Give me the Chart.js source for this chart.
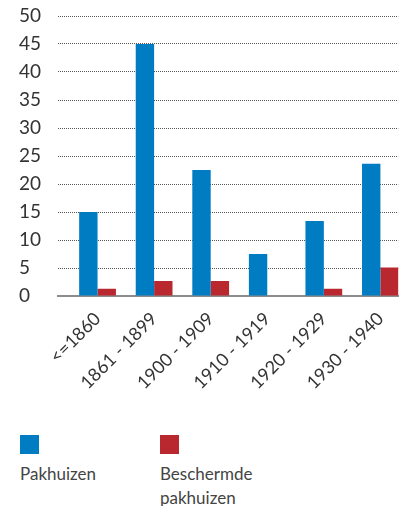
<!DOCTYPE html>
<html>
<head>
<meta charset="utf-8">
<script src="https://cdn.jsdelivr.net/npm/chart.js@4"></script>
<style>
  body { margin: 0; background: #fff; font-family: Lato, sans-serif; }
  #wrap { position: relative; width: 408px; height: 506px; }
  #chart { position: absolute; left: 0; top: 0; }
  .legend-item { position: absolute; top: 435px; color: #444; font-size: 17px; line-height: 24px; }
  .legend-item .box { width: 19px; height: 19px; margin-bottom: 8px; }
</style>
</head>
<body>
<div id="wrap">
  <canvas id="chart" width="408" height="400"></canvas>
  <div class="legend-item" style="left:20px;">
    <div class="box" style="background:#007cc3;"></div>
    <div>Pakhuizen</div>
  </div>
  <div class="legend-item" style="left:160px; width:120px;">
    <div class="box" style="background:#b8282e;"></div>
    <div>Beschermde<br>pakhuizen</div>
  </div>
</div>
<script>
// chart data
const categories = ['<=1860', '1861 - 1899', '1900 - 1909', '1910 - 1919', '1920 - 1929', '1930 - 1940'];
const pakhuizen = [15, 45, 22.5, 7.5, 13.4, 23.6];
const beschermd = [1.3, 2.7, 2.7, 0, 1.3, 5.1];
const yTicks = [0, 5, 10, 15, 20, 25, 30, 35, 40, 45, 50];

const BLUE = '#007cc3';
const RED = '#b8282e';

function toPoints(values) {
  return values.map((v, i) => ({ x: i, y: v }));
}

const ctx = document.getElementById('chart');

new Chart(ctx, {
  type: 'bar',
  data: {
    datasets: [
      {
        label: 'Pakhuizen',
        data: toPoints(pakhuizen),
        backgroundColor: BLUE,
        borderWidth: 0,
      },
      {
        label: 'Beschermde pakhuizen',
        data: toPoints(beschermd),
        backgroundColor: RED,
        borderWidth: 0,
      }
    ]
  },
  options: {
    responsive: false,
    animation: false,
    categoryPercentage: 0.65,
    barPercentage: 1.0,
    layout: { padding: { top: 16, right: 6, left: 19, bottom: 0 } },
    plugins: {
      legend: { display: false },
      tooltip: { enabled: false }
    },
    scales: {
      x: {
        type: 'linear',
        offset: false,
        min: -0.699,
        max: 5.315,
        afterBuildTicks: axis => {
          axis.ticks = categories.map((_, i) => ({ value: i }));
        },
        afterFit: axis => { axis.height = 104; },
        grid: { display: false, drawTicks: false, offset: false },
        border: { display: true, color: '#8c8c8c', width: 2 },
        ticks: {
          autoSkip: false,
          minRotation: 45,
          maxRotation: 45,
          padding: 12,
          color: '#333',
          font: { size: 18, family: 'Lato' },
          callback: v => categories[v]
        }
      },
      y: {
        min: 0,
        max: 50,
        afterBuildTicks: axis => {
          axis.ticks = yTicks.map(v => ({ value: v }));
        },
        afterFit: axis => { axis.width = 39; },
        border: { display: false, dash: [1, 1] },
        grid: {
          color: '#555',
          lineWidth: 1,
          drawTicks: false
        },
        ticks: {
          crossAlign: 'far',
          padding: 0,
          color: '#333',
          font: { size: 19, family: 'Lato' }
        }
      }
    }
  }
});
</script>
</body>
</html>
